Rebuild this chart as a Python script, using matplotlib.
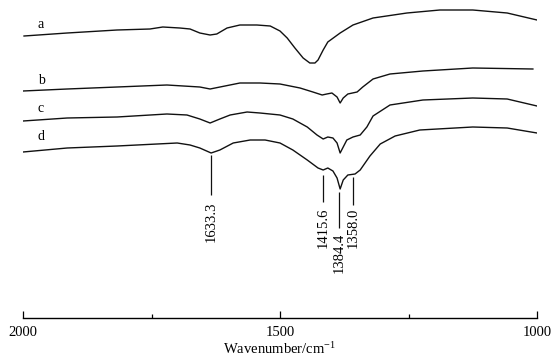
import matplotlib
matplotlib.use("Agg")
import matplotlib.pyplot as plt

plt.rcParams['font.family'] = ['Liberation Serif', 'DejaVu Serif']
plt.rcParams['mathtext.fontset'] = 'custom'
plt.rcParams['mathtext.rm'] = 'Liberation Serif'
plt.rcParams['mathtext.default'] = 'regular'

# IR spectra (wavenumber in cm-1, intensity in arbitrary units, offset per curve)
wn_a = [1998, 1914, 1817, 1753, 1728, 1695, 1675, 1656, 1636, 1623, 1603, 1578, 1545, 1519,
        1500, 1486, 1471, 1455, 1442, 1432, 1426, 1416, 1407, 1383, 1358, 1319, 1253, 1189,
        1125, 1058, 1000]
int_a = [282, 285, 288, 289, 291, 290, 289, 285, 283, 284, 290, 293, 293, 292,
         287, 280, 270, 260, 255, 255, 258, 268, 276, 285, 293, 300, 305, 308,
         308, 305, 298]

wn_b = [2000, 1914, 1817, 1720, 1656, 1636, 1607, 1578, 1539, 1500, 1461, 1436, 1418, 1409,
        1399, 1389, 1383, 1377, 1368, 1350, 1339, 1319, 1286, 1222, 1125, 1008]
int_b = [227, 229, 231, 233, 231, 229, 232, 235, 235, 234, 230, 226, 223, 224,
         225, 221, 215, 220, 224, 226, 231, 239, 244, 247, 250, 249]

wn_c = [2000, 1914, 1817, 1720, 1681, 1656, 1636, 1617, 1597, 1564, 1539, 1500, 1475, 1447,
        1428, 1416, 1407, 1397, 1389, 1383, 1377, 1370, 1358, 1344, 1331, 1319, 1286, 1222,
        1125, 1058, 1000]
int_c = [197, 200, 201, 204, 203, 199, 195, 199, 203, 206, 205, 203, 199, 191,
         183, 179, 181, 180, 175, 165, 171, 178, 181, 183, 191, 202, 213, 218,
         220, 219, 212]

wn_d = [2000, 1914, 1817, 1700, 1675, 1656, 1634, 1617, 1591, 1558, 1529, 1500, 1475, 1447,
        1426, 1416, 1407, 1397, 1389, 1383, 1377, 1368, 1354, 1344, 1325, 1305, 1276, 1228,
        1125, 1058, 1000]
int_d = [166, 170, 172, 175, 173, 170, 165, 168, 175, 178, 178, 175, 168, 158,
         150, 148, 150, 147, 140, 129, 138, 143, 144, 148, 162, 174, 182, 188,
         191, 190, 185]

curves = [(wn_a, int_a, 'a'), (wn_b, int_b, 'b'), (wn_c, int_c, 'c'), (wn_d, int_d, 'd')]
label_heights = [294, 238, 209, 181]

# marked peaks of curve d
peaks = [1633.3, 1415.6, 1384.4, 1358.0]
peak_line_top = [163, 143, 126, 141]
peak_line_bottom = [123, 116, 90, 113]
peak_text_y = [96, 90, 65, 90]

fig = plt.figure(figsize=(5.55, 3.6), dpi=100)
ax = fig.add_axes([23 / 555, 42 / 360, 514 / 555, 318 / 360])

for (wn, inten, name), ly in zip(curves, label_heights):
    ax.plot(wn, inten, color='#111111', lw=1.0, solid_joinstyle='round')
    ax.text(1965, ly, name, fontsize=10, ha='center', va='center')

for p, top, bot, ty in zip(peaks, peak_line_top, peak_line_bottom, peak_text_y):
    ax.vlines(p, bot, top, color='#111111', lw=0.9)
    ax.text(p, ty, f'{p:.1f}', rotation=90, fontsize=10.5, ha='center', va='center')

ax.set_xlim(2000, 1000)
ax.set_ylim(0, 318)
for s in ['top', 'left', 'right']:
    ax.spines[s].set_visible(False)
ax.spines['bottom'].set_linewidth(1.0)
ax.set_yticks([])
ax.set_xticks([2000, 1500, 1000])
ax.set_xticklabels(['2000', '1500', '1000'])
ax.set_xticks([1750, 1250], minor=True)
ax.tick_params(axis='x', direction='in', length=5, width=0.9, pad=6, labelsize=10.5)
ax.tick_params(axis='x', which='minor', direction='in', length=3, width=0.9)
ax.set_xlabel('Wavenumber/cm$^{-1}$', fontsize=10.5, labelpad=1)

fig.savefig('out.png', dpi=100)
